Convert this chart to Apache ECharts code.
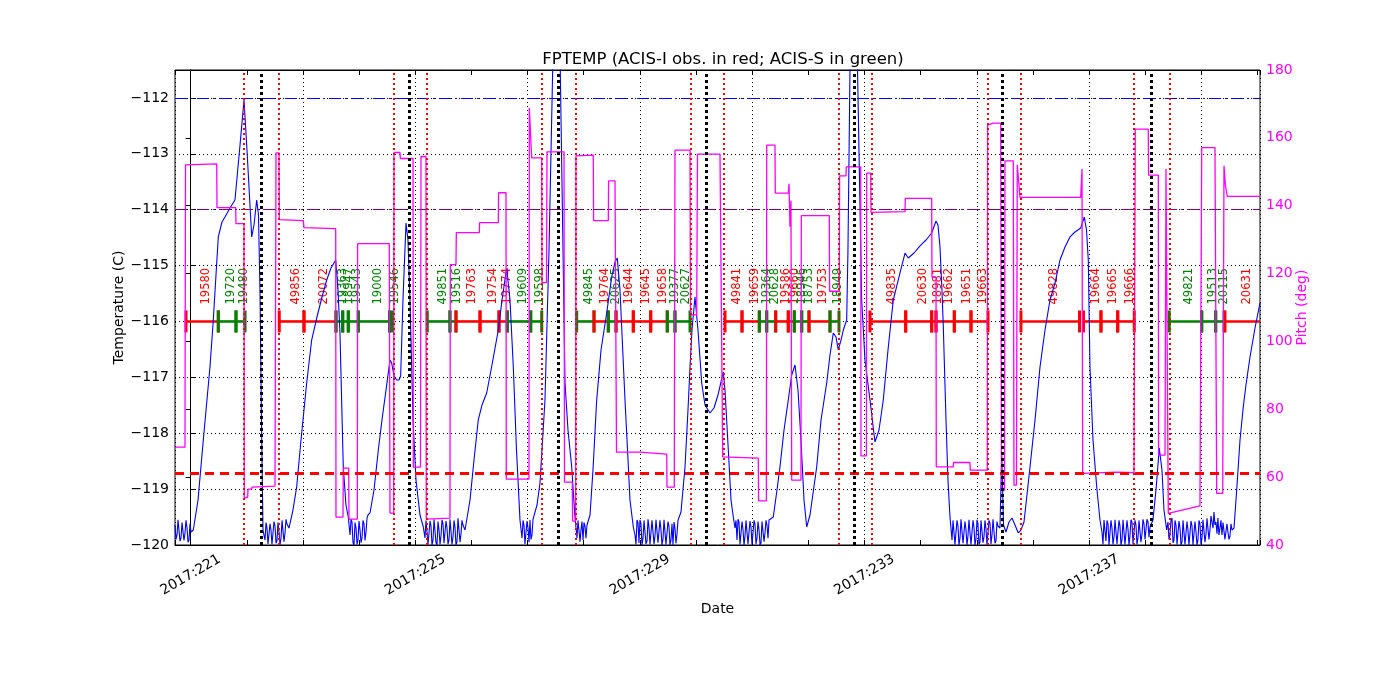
<!DOCTYPE html>
<html><head><meta charset="utf-8">
<script src="https://cdn.jsdelivr.net/npm/echarts@6/dist/echarts.min.js"></script>
<style>html,body{margin:0;padding:0;background:#fff}#c{width:1400px;height:700px}</style>
</head><body><div id="c"></div>
<script>
// ---- axis ranges (day of year 2017) ----
const DAY0 = 221;
const xMin = 220.721, xMax = 240.044;
const tempMin = -120, tempMax = -111.5;
const pitchMin = 40, pitchMax = 180;

// ---- FPTEMP (C) : [day of year, temperature] ----
const fptemp = [
[220.721,-119.642],[220.739,-119.900],[220.757,-119.821],[220.775,-119.550],[220.792,-119.517],[220.810,-119.930],[220.828,-119.875],[220.846,-119.600],[220.863,-119.588],[220.881,-119.920],[220.899,-119.785],[220.917,-119.560],[220.935,-119.696],[220.953,-119.950],[220.970,-119.911],[220.988,-119.620],[221.006,-119.767],
[221.047,-119.732],[221.131,-119.195],[221.225,-118.121],[221.344,-116.815],[221.403,-115.974],[221.451,-115.168],[221.492,-114.488],[221.558,-114.220],[221.611,-114.130],[221.700,-113.969],[221.789,-113.826],[221.879,-112.842],[221.950,-112.037],[222.003,-112.931],[222.087,-114.488],[222.128,-114.274],[222.176,-113.826],[222.208,-114.095],[222.235,-115.490],[222.261,-117.763],[222.288,-119.732],
[222.324,-119.911],[222.342,-119.600],[222.359,-119.696],[222.377,-119.980],[222.395,-120.0],[222.413,-119.620],[222.430,-119.732],[222.448,-119.990],[222.466,-119.964],[222.484,-119.580],[222.502,-119.660],[222.520,-119.970],[222.537,-119.928],[222.555,-119.600],[222.573,-119.767],[222.591,-120.0],[222.609,-119.875],[222.627,-119.560],[222.644,-119.588],[222.662,-119.940],[222.680,-119.785],[222.698,-119.540],[222.715,-119.624],
[222.751,-119.696],[222.822,-119.374],[222.888,-118.962],[222.965,-118.121],[223.066,-117.101],[223.155,-116.332],[223.245,-115.938],[223.334,-115.580],[223.423,-115.258],[223.499,-115.043],[223.583,-114.900],[223.624,-115.437],[223.659,-116.206],[223.718,-118.604],[223.766,-119.284],[223.807,-119.499],
[223.838,-119.821],[223.856,-119.540],[223.873,-119.588],[223.891,-119.960],[223.909,-120.0],[223.927,-119.600],[223.945,-119.696],[223.963,-119.990],[223.980,-119.911],[223.998,-119.570],[224.016,-119.732],[224.034,-119.960],[224.051,-119.875],[224.069,-119.560],[224.087,-119.624],[224.105,-119.920],[224.123,-119.767],[224.141,-119.520],[224.158,-119.463],
[224.194,-119.427],[224.265,-119.016],[224.342,-118.300],[224.407,-117.763],[224.479,-117.226],[224.550,-116.689],[224.580,-116.743],[224.621,-116.976],[224.669,-117.047],[224.710,-117.047],[224.740,-116.976],[224.781,-115.616],[224.835,-114.238],[224.870,-114.542],[224.906,-115.616],[224.960,-117.763],[225.013,-118.837],[225.084,-119.463],[225.143,-119.678],
[225.173,-119.875],[225.191,-119.560],[225.209,-119.588],[225.227,-119.990],[225.245,-119.964],[225.263,-119.570],[225.280,-119.660],[225.298,-120.0],[225.316,-119.911],[225.334,-119.540],[225.351,-119.553],[225.369,-119.960],[225.387,-120.0],[225.405,-119.580],[225.423,-119.732],[225.441,-119.990],[225.458,-119.839],[225.476,-119.550],[225.494,-119.624],[225.512,-119.970],[225.529,-120.0],[225.547,-119.570],[225.565,-119.696],[225.583,-119.980],[225.601,-119.911],[225.619,-119.540],[225.636,-119.571],[225.654,-119.990],[225.672,-119.857],[225.690,-119.560],[225.707,-119.678],[225.725,-120.0],[225.743,-119.946],[225.761,-119.520],[225.779,-119.535],[225.797,-119.950],[225.814,-119.803],[225.832,-119.560],[225.850,-119.642],
[225.886,-119.732],[225.975,-119.195],[226.046,-118.479],[226.122,-117.763],[226.188,-117.495],[226.272,-117.280],[226.366,-116.779],[226.479,-116.153],[226.545,-115.616],[226.628,-115.043],[226.687,-115.616],[226.746,-116.815],[226.803,-118.300],[226.865,-119.553],
[226.901,-119.875],[226.919,-119.560],[226.936,-119.642],[226.954,-119.980],[226.972,-119.946],[226.990,-119.570],[227.008,-119.696],[227.026,-119.950],[227.043,-119.553],[227.061,-119.900],[227.079,-119.821],[227.097,-119.540],[227.114,-119.517],
[227.168,-119.284],[227.221,-118.891],[227.310,-117.405],[227.382,-114.721],[227.458,-110.963],[227.519,-110.605],[227.577,-111.142],[227.667,-117.101],[227.720,-117.942],[227.786,-118.604],[227.844,-119.499],
[227.880,-119.875],[227.898,-119.560],[227.916,-119.588],[227.934,-119.940],[227.951,-119.732],[227.969,-119.580],[227.987,-119.911],[228.005,-119.600],[228.022,-119.660],[228.040,-119.880],[228.058,-119.642],
[228.112,-119.463],[228.165,-118.658],[228.231,-117.405],[228.308,-116.510],[228.409,-115.848],[228.498,-115.204],[228.557,-114.936],[228.598,-114.864],[228.646,-115.437],[228.676,-116.099],[228.735,-117.405],[228.789,-118.479],[228.824,-119.195],[228.883,-119.678],
[228.913,-119.821],[228.931,-119.990],[228.949,-119.553],[228.967,-119.600],[228.984,-119.964],[229.002,-119.550],[229.020,-119.624],[229.038,-120.0],[229.056,-119.875],[229.074,-119.560],[229.091,-119.535],[229.109,-119.980],[229.127,-119.928],[229.145,-119.540],[229.162,-119.678],[229.180,-119.990],[229.198,-120.0],[229.216,-119.560],[229.234,-119.588],[229.252,-119.980],[229.269,-119.839],[229.287,-119.550],[229.305,-119.517],[229.323,-119.960],[229.340,-119.982],[229.358,-119.560],[229.376,-119.732],[229.394,-120.0],[229.412,-119.893],[229.430,-119.550],[229.447,-119.571],[229.465,-119.990],[229.483,-120.0],[229.501,-119.580],[229.518,-119.660],[229.536,-120.0],[229.554,-119.911],[229.572,-119.620],[229.590,-120.0],[229.608,-119.590],[229.625,-119.696],[229.643,-119.970],[229.661,-119.803],[229.679,-119.560],[229.696,-119.535],
[229.732,-119.409],[229.804,-118.604],[229.857,-117.584],[229.893,-116.815],[229.928,-116.153],[229.982,-115.562],[230.035,-116.153],[230.101,-117.101],[230.160,-117.495],[230.249,-117.638],[230.320,-117.548],[230.391,-117.316],[230.445,-117.083],[230.486,-116.904],[230.516,-117.226],[230.575,-118.300],[230.623,-119.195],[230.664,-119.499],
[230.694,-119.696],[230.712,-119.560],[230.730,-119.911],[230.748,-119.540],[230.765,-119.588],[230.783,-119.990],[230.801,-120.0],[230.819,-119.580],[230.837,-119.732],[230.855,-120.0],[230.872,-119.839],[230.890,-119.560],[230.908,-119.553],[230.926,-119.980],[230.943,-119.946],[230.961,-119.570],[230.979,-119.678],[230.997,-119.990],[231.015,-120.0],[231.033,-119.560],[231.050,-119.624],[231.068,-119.980],[231.086,-119.875],[231.104,-119.580],[231.122,-119.732],[231.140,-120.0],[231.157,-119.964],[231.175,-119.580],[231.193,-119.571],[231.211,-119.940],[231.228,-119.785],[231.246,-119.560],[231.264,-119.642],[231.282,-119.880],[231.300,-119.553],
[231.376,-119.499],[231.442,-119.016],[231.495,-118.604],[231.567,-117.942],[231.643,-117.405],[231.704,-116.958],[231.763,-116.779],[231.816,-117.226],[231.869,-118.121],[231.923,-119.195],[231.971,-119.678],[232.030,-119.463],[232.149,-118.604],[232.226,-117.763],[232.327,-117.101],[232.386,-116.600],[232.445,-116.206],[232.493,-116.278],[232.534,-116.510],[232.582,-116.332],[232.623,-116.153],[232.683,-115.974],[232.706,-114.721],[232.742,-111.500],[232.795,-110.605],[232.867,-110.963],[232.902,-112.931],[232.950,-115.616],[233.009,-116.689],[233.098,-117.405],[233.187,-118.157],[233.259,-117.942],[233.335,-117.405],[233.419,-116.510],[233.513,-115.616],[233.615,-115.204],[233.722,-114.775],[233.780,-114.864],[233.882,-114.775],[233.989,-114.649],[234.096,-114.542],[234.197,-114.417],[234.274,-114.202],[234.309,-114.274],[234.345,-114.667],[234.380,-115.437],[234.404,-116.099],[234.452,-117.763],[234.487,-118.837],[234.523,-119.499],
[234.559,-119.911],[234.577,-119.560],[234.594,-119.588],[234.612,-119.990],[234.630,-119.964],[234.648,-119.560],[234.665,-119.660],[234.683,-120.0],[234.701,-119.875],[234.719,-119.540],[234.737,-119.553],[234.755,-119.970],[234.772,-120.0],[234.790,-119.580],[234.808,-119.732],[234.826,-120.0],[234.843,-119.839],[234.861,-119.550],[234.879,-119.571],[234.897,-119.990],[234.915,-119.982],[234.933,-119.560],[234.950,-119.678],[234.968,-120.0],[234.986,-119.893],[235.004,-119.550],[235.021,-119.624],[235.039,-119.990],[235.057,-119.946],[235.075,-119.560],[235.093,-119.535],[235.111,-119.960],[235.128,-119.857],[235.146,-119.560],[235.164,-119.714],[235.182,-120.0],[235.199,-120.0],[235.217,-119.560],[235.235,-119.606],[235.253,-119.980],[235.271,-119.821],[235.289,-119.540],[235.306,-119.553],[235.324,-119.970],[235.342,-119.928],[235.360,-119.580],[235.377,-119.660],
[235.413,-119.696],[235.444,-118.389],[235.476,-119.642],[235.520,-119.767],[235.574,-119.588],[235.627,-119.517],[235.681,-119.642],[235.739,-119.785],[235.787,-119.732],[235.841,-119.588],[235.894,-119.105],[235.948,-118.604],[236.037,-117.763],[236.126,-116.815],[236.215,-116.153],[236.304,-115.616],[236.393,-115.312],[236.482,-114.900],[236.571,-114.667],[236.660,-114.488],[236.749,-114.399],[236.851,-114.327],[236.915,-114.130],[236.954,-114.363],[236.986,-114.900],[237.016,-116.815],[237.070,-118.121],[237.136,-118.962],[237.194,-119.553],
[237.230,-119.767],[237.248,-119.990],[237.266,-119.553],[237.284,-119.560],[237.301,-119.928],[237.319,-119.560],[237.337,-119.624],[237.355,-120.0],[237.372,-120.0],[237.390,-119.560],[237.408,-119.696],[237.426,-119.990],[237.444,-119.857],[237.462,-119.550],[237.479,-119.535],[237.497,-119.980],[237.515,-119.964],[237.533,-119.560],[237.550,-119.660],[237.568,-120.0],[237.586,-119.911],[237.604,-119.550],[237.622,-119.571],[237.640,-119.990],[237.657,-120.0],[237.675,-119.560],[237.693,-119.714],[237.711,-120.0],[237.728,-119.839],[237.746,-119.550],[237.764,-119.588],[237.782,-119.980],[237.800,-119.946],[237.818,-119.560],[237.835,-119.642],[237.853,-119.990],[237.871,-119.875],[237.889,-119.560],[237.906,-119.553],[237.924,-119.950],[237.942,-119.803],[237.960,-119.540],[237.978,-119.624],[237.996,-119.900],[238.013,-119.732],[238.031,-119.540],[238.049,-119.588],[238.067,-119.860],[238.084,-119.678],
[238.138,-119.553],[238.192,-119.016],[238.250,-118.264],[238.298,-118.658],[238.334,-119.374],[238.382,-119.732],
[238.405,-119.588],[238.423,-119.900],[238.441,-119.821],[238.459,-119.560],[238.477,-119.517],[238.495,-119.960],[238.512,-119.911],[238.530,-119.560],[238.548,-119.642],[238.566,-119.990],[238.583,-120.0],[238.601,-119.570],[238.619,-119.696],[238.637,-120.0],[238.655,-119.946],[238.673,-119.560],[238.690,-119.571],[238.708,-119.990],[238.726,-120.0],[238.744,-119.580],[238.761,-119.732],[238.779,-120.0],[238.797,-119.982],[238.815,-119.570],[238.833,-119.660],[238.851,-120.0],[238.868,-120.0],[238.886,-119.580],[238.904,-119.767],[238.922,-120.0],[238.939,-119.911],[238.957,-119.560],[238.975,-119.624],[238.993,-119.990],[239.011,-119.875],[239.029,-119.550],[239.046,-119.553],[239.064,-119.950],[239.082,-119.803],[239.100,-119.520],[239.117,-119.517],[239.135,-119.900],[239.153,-119.732],[239.171,-119.480],[239.189,-119.445],[239.207,-119.700],[239.224,-119.409],[239.242,-119.640],[239.260,-119.588],[239.278,-119.800],[239.295,-119.517],[239.313,-119.820],[239.331,-119.696],[239.349,-119.560],[239.367,-119.821],[239.385,-119.600],[239.402,-119.624],[239.420,-119.900],[239.438,-119.875],[239.456,-119.620],[239.473,-119.767],[239.491,-119.900],[239.509,-119.839],[239.527,-119.620],[239.545,-119.732],
[239.581,-119.696],[239.629,-119.016],[239.688,-118.121],[239.746,-117.530],[239.794,-117.137],[239.866,-116.636],[239.955,-116.117],[240.044,-115.669]
];

// ---- Pitch (deg) : [day of year, pitch] ----
const pitch = [
[220.721,68.82],[220.899,68.82],[220.908,152.06],[221.464,152.35],[221.469,139.41],[221.802,139.41],[221.807,134.71],[221.950,134.71],[221.955,53.82],[222.016,54.12],[222.021,56.47],[222.087,56.47],[222.092,57.06],[222.502,57.35],[222.520,155.59],[222.573,155.59],[222.578,135.88],[223.006,135.59],[223.018,133.53],[223.583,133.24],[223.588,48.24],[223.713,48.24],[223.718,62.65],[223.814,62.65],[223.820,47.65],[223.968,47.65],[223.973,128.82],[224.537,128.82],[224.550,49.41],[224.616,49.41],[224.621,155.68],[224.728,155.68],[224.733,153.91],[224.960,153.91],[224.965,62.94],[225.093,62.94],[225.102,154.50],[225.191,154.50],[225.196,47.65],[225.618,47.94],[225.624,122.65],[225.725,122.65],[225.731,132.06],[226.140,132.06],[226.146,135.00],[226.479,135.00],[226.484,143.82],[226.616,143.82],[226.621,59.41],[227.025,59.41],[227.031,168.82],[227.073,154.12],[227.252,154.12],[227.257,117.35],[227.337,117.35],[227.346,155.88],[227.649,155.88],[227.658,58.53],[227.796,58.53],[227.802,47.06],[227.857,47.06],[227.862,154.71],[228.170,154.91],[228.176,135.59],[228.438,135.59],[228.443,147.35],[228.557,147.35],[228.584,67.35],[229.002,67.35],[229.007,67.06],[229.478,66.76],[229.483,57.06],[229.613,57.06],[229.625,156.38],[229.893,156.38],[229.901,107.85],[230.012,107.85],[230.026,155.21],[230.427,155.21],[230.475,65.97],[231.109,65.59],[231.114,53.03],[231.253,53.03],[231.259,157.85],[231.406,157.85],[231.412,143.74],[231.643,143.74],[231.656,146.47],[231.673,133.82],[231.691,141.47],[231.704,59.12],[231.869,59.12],[231.875,137.06],[232.373,137.06],[232.379,114.79],[232.552,114.79],[232.557,148.82],[232.671,148.82],[232.676,151.47],[232.933,151.47],[232.938,66.26],[233.034,66.26],[233.040,149.62],[233.111,149.62],[233.116,138.03],[233.722,138.24],[233.727,142.15],[234.197,142.15],[234.202,118.91],[234.274,118.91],[234.279,63.03],[234.582,63.03],[234.587,64.32],[234.879,64.32],[234.884,62.06],[235.187,62.06],[235.193,163.74],[235.294,164.32],[235.426,164.32],[235.440,56.18],[235.494,56.18],[235.502,153.24],[235.650,153.24],[235.663,57.65],[235.707,57.65],[235.721,152.06],[235.770,142.44],[236.851,142.44],[236.874,150.79],[236.886,61.09],[237.492,61.47],[237.800,61.32],[237.823,162.56],[238.054,162.56],[238.060,149.03],[238.233,149.03],[238.238,66.47],[238.352,66.47],[238.370,150.79],[238.411,49.32],[238.975,51.56],[239.006,157.15],[239.242,157.15],[239.273,55.21],[239.380,55.21],[239.403,151.76],[239.429,145.88],[239.461,142.74],[240.044,142.74]
];

// ---- observations ----
const obsId = [19580,19720,19480,49856,20072,19363,18947,19543,19000,19546,49851,19516,19763,19754,19774,19609,19598,49845,19764,20625,19644,19645,19658,19377,20627,49841,19659,19364,20628,19586,19660,18946,18753,19753,18949,49835,20630,18981,19662,19651,19663,49828,19664,19665,19666,49821,19513,20115,20631];
const obsInstr = ['I','S','S','I','I','S','S','S','S','S','S','S','I','I','I','S','S','S','I','S','I','I','I','S','S','I','I','S','S','I','I','S','S','I','S','I','I','I','I','I','I','I','I','I','I','S','S','S','I'];
const obsStart = [220.917,221.492,221.807,222.578,223.018,223.588,223.708,223.807,223.985,224.541,225.214,225.618,225.725,226.153,226.491,226.639,227.056,227.875,228.183,228.438,228.575,228.883,229.193,229.488,229.625,230.516,230.819,231.127,231.259,231.419,231.643,231.750,231.882,232.012,232.386,233.098,233.734,234.197,234.274,234.600,234.897,235.787,236.900,237.212,237.510,238.428,239.006,239.255,239.420];
const obsStop  = [221.492,221.807,221.968,223.018,223.588,223.708,223.807,223.985,224.541,224.594,225.618,225.725,226.153,226.491,226.639,227.056,227.252,228.183,228.438,228.575,228.883,229.193,229.488,229.625,229.893,230.819,231.127,231.259,231.419,231.643,231.750,231.882,232.012,232.386,232.546,233.734,234.197,234.274,234.600,234.897,235.200,236.829,237.212,237.510,237.805,239.006,239.255,239.403,240.079];
const obsLevel = -116;

// ---- radiation zone edges and perigee times ----
const radZone = [221.950,222.573,224.609,225.203,227.257,227.862,229.905,230.503,232.546,233.128,235.194,235.788,237.805,238.428];
const perigee = [222.253,224.894,227.542,230.190,232.819,235.454,238.103];

// ---- limit lines (C) ----
const planLimit = -112.0;
const acisILimit = -114.0;
const acisSLimit = -118.72;

const FONT = 'DejaVu Sans';
const toX = t => +(t - DAY0).toFixed(4);
const isInt = v => Math.abs(v - Math.round(v)) < 1e-6;

// nice ticks (no fixed interval): one tick per day, grid every two days
const xBase = { type: 'value', min: toX(xMin), max: toX(xMax), gridIndex: 0 };
const dayTicks = { splitNumber: 20, minInterval: 1, maxInterval: 1 };
const twoDayTicks = { splitNumber: 10, minInterval: 2, maxInterval: 2 };

const option = {
  animation: false,
  backgroundColor: '#ffffff',
  title: {
    text: 'FPTEMP (ACIS-I obs. in red; ACIS-S in green)',
    left: 718, top: 46, textAlign: 'center',
    textStyle: { fontFamily: FONT, fontSize: 16.5, fontWeight: 'normal', color: '#000' }
  },
  grid: { left: 175, right: 140, top: 70, bottom: 155, show: true, borderColor: '#000', borderWidth: 1, backgroundColor: 'transparent' },
  xAxis: [
    Object.assign({}, xBase, dayTicks, {
      position: 'bottom',
      axisLine: { show: true, lineStyle: { color: '#000', width: 1 } },
      axisTick: { show: true, inside: true, length: 5, lineStyle: { color: '#000' } },
      axisLabel: {
        show: true,
        formatter: function (v) { return (isInt(v) && Math.round(v) % 4 === 0) ? '2017:' + (DAY0 + Math.round(v)) : ''; },
        rotate: 30, align: 'center', verticalAlign: 'middle', margin: 30, hideOverlap: false,
        fontFamily: FONT, fontSize: 14, color: '#000'
      },
      splitLine: { show: false },
      name: 'Date', nameLocation: 'middle', nameGap: 57, nameMoveOverlap: false,
      nameTextStyle: { fontFamily: FONT, fontSize: 14, color: '#000' }
    }),
    Object.assign({}, xBase, dayTicks, {
      position: 'top',
      axisLine: { show: true, lineStyle: { color: '#000', width: 1 } },
      axisTick: { show: true, inside: true, length: 5, lineStyle: { color: '#000' } },
      axisLabel: { show: false },
      splitLine: { show: false }
    }),
    Object.assign({}, xBase, twoDayTicks, {
      position: 'bottom', offset: 0,
      axisLine: { show: false }, axisTick: { show: false }, axisLabel: { show: false },
      splitLine: { show: true, lineStyle: { color: '#000', type: [1, 3], width: 1 } }
    })
  ],
  yAxis: [
    {
      type: 'value', position: 'left', min: tempMin, max: tempMax, interval: 1,
      axisLine: { show: true, lineStyle: { color: '#000', width: 1 } },
      axisTick: { show: true, inside: true, length: 5, lineStyle: { color: '#000' } },
      axisLabel: {
        formatter: v => isInt(v) ? '\u2212' + Math.abs(Math.round(v)) : '',
        margin: 6, fontFamily: FONT, fontSize: 14, color: '#000'
      },
      splitLine: { show: true, lineStyle: { color: '#000', type: [1, 3], width: 1 } },
      name: 'Temperature (C)', nameLocation: 'middle', nameGap: 49, nameMoveOverlap: false,
      nameTextStyle: { fontFamily: FONT, fontSize: 14, color: '#000' }
    },
    {
      type: 'value', position: 'right', min: pitchMin, max: pitchMax, interval: 20,
      axisLine: { show: true, lineStyle: { color: '#000', width: 1 } },
      axisTick: { show: true, inside: true, length: 5, lineStyle: { color: '#000' } },
      axisLabel: { margin: 6, fontFamily: FONT, fontSize: 14, color: '#ff00ff' },
      splitLine: { show: false },
      name: 'Pitch (deg)', nameLocation: 'middle', nameGap: 35, nameMoveOverlap: false,
      nameTextStyle: { fontFamily: FONT, fontSize: 14, color: '#ff00ff' }
    }
  ],
  series: [
    {
      name: 'obs', type: 'custom', xAxisIndex: 0, yAxisIndex: 0, z: 2, clip: true, silent: true,
      encode: { x: [0, 1] },
      data: obsStart.map((s, i) => [toX(s), toX(obsStop[i])]),
      renderItem: function (params, api) {
        const i = params.dataIndex;
        const s = api.coord([api.value(0), obsLevel]);
        const e = api.coord([api.value(1), obsLevel]);
        const col = obsInstr[i] === 'I' ? '#ff0000' : '#008000';
        return {
          type: 'group',
          children: [
            { type: 'line', shape: { x1: s[0], y1: s[1], x2: e[0], y2: e[1] }, style: { stroke: col, lineWidth: 2.6 } },
            { type: 'line', shape: { x1: s[0], y1: s[1] - 11, x2: s[0], y2: s[1] + 11 }, style: { stroke: col, lineWidth: 3 } },
            { type: 'line', shape: { x1: e[0], y1: e[1] - 11, x2: e[0], y2: e[1] + 11 }, style: { stroke: col, lineWidth: 3 } },
            { type: 'text', x: (s[0] + e[0]) / 2 + 4, y: s[1] - 17, rotation: Math.PI / 2,
              style: { text: String(obsId[i]), fill: col, fontFamily: FONT, fontSize: 11.5, align: 'left', verticalAlign: 'middle' } }
          ]
        };
      }
    },
    {
      name: 'FPTEMP', type: 'line', xAxisIndex: 0, yAxisIndex: 0, z: 3,
      showSymbol: false, symbol: 'none', clip: true,
      data: fptemp.map(p => [toX(p[0]), p[1]]),
      lineStyle: { color: '#0000ff', width: 1.1 },
      markLine: {
        silent: true, symbol: ['none', 'none'], label: { show: false }, animation: false,
        data: [
          { yAxis: planLimit, lineStyle: { color: '#0000ff', type: [12, 4, 2, 4], width: 1 } },
          { yAxis: acisILimit, lineStyle: { color: '#800080', type: [12, 4, 2, 4], width: 1 } },
          { yAxis: acisSLimit, lineStyle: { color: '#ff0000', type: [9, 6], width: 3 } }
        ].concat(
          radZone.map(t => ({ xAxis: toX(t), lineStyle: { color: '#ff0000', type: [2, 3], width: 2 } })),
          perigee.map(t => ({ xAxis: toX(t), lineStyle: { color: '#000000', type: [3, 3], width: 3 } }))
        )
      }
    },
    {
      name: 'Pitch', type: 'line', xAxisIndex: 0, yAxisIndex: 1, z: 4,
      showSymbol: false, symbol: 'none', clip: true,
      data: pitch.map(p => [toX(p[0]), p[1]]),
      lineStyle: { color: '#ff00ff', width: 1.3 }
    }
  ]
};

const chart = echarts.init(document.getElementById('c'), null, { renderer: 'canvas' });
chart.setOption(option);
</script>
</body></html>
